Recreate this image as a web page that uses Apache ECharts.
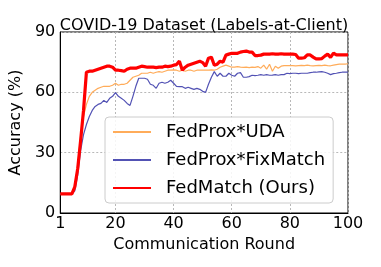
<!DOCTYPE html>
<html><head><meta charset="utf-8">
<script src="https://cdn.jsdelivr.net/npm/echarts@6/dist/echarts.min.js"></script>
<style>html,body{margin:0;padding:0;background:#fff}#c{width:381px;height:267px}</style>
</head><body><div id="c"></div>
<script>
const rounds = Array.from({length: 100}, (_, i) => i + 1);
const xTickLabels = [1, 20, 40, 60, 80, 100];
const yTickLabels = [0, 30, 60, 90];
const seriesNames = ['FedProx*UDA', 'FedProx*FixMatch', 'FedMatch (Ours)'];

const fedproxUDA = [
  9.5, 9.5, 9.5, 9.5, 9.5, 13, 24, 38, 48, 54,
  58, 60, 61, 62, 62.5, 63, 63, 63, 63.5, 64.5,
  63.5, 64, 64, 64.5, 66, 67.5, 68, 68.5, 69.5, 69.5,
  69.5, 70, 69.5, 70, 70.3, 70, 70.5, 71, 71, 71.2,
  71, 70.5, 71, 70.5, 71, 71, 70.5, 71, 71, 71,
  71, 71, 71.2, 71, 71.5, 72.5, 73, 73.5, 73, 72.5,
  72.5, 72.8, 72.5, 72.4, 72.5, 72.3, 72.5, 72.4, 72.8, 72,
  73.5, 71.5, 74, 70.5, 73, 72, 73, 73.3, 73.3, 73.3,
  73.3, 73.2, 73.3, 73.4, 73.3, 73.5, 73.3, 73.2, 73.3, 73.4,
  73.3, 73.5, 73.3, 73.2, 73.5, 73.8, 74, 74, 74, 74.2
];
const fedproxFixMatch = [
  9.5, 9.5, 9.5, 9.5, 9.5, 11, 19, 31, 39, 44,
  48, 51, 53, 54, 54.5, 56, 55, 57, 58, 59.8,
  58, 57, 56, 54.5, 53.5, 58, 63, 67, 67, 67,
  66.5, 64, 63.5, 62, 64.5, 65, 64.5, 65, 66, 64.5,
  63, 62.8, 62.8, 62, 62.5, 62, 61.5, 62, 61.5, 60.5,
  60, 64, 67.5, 70.3, 68, 69.5, 68, 68, 69.5, 68.5,
  68, 69.5, 69.8, 67.5, 67.5, 67.8, 68.5, 68.3, 68.5, 68.8,
  68.5, 68.8, 68.5, 68.6, 68.8, 68.5, 68.8, 68.8, 69.5, 69.3,
  69.5, 69.5, 69.3, 69.5, 69.5, 69.5, 69.8, 70, 70, 70.2,
  70.3, 70, 69.5, 68.8, 69.3, 69.5, 69.8, 70, 70, 70
];
const fedMatch = [
  9.5, 9.5, 9.5, 9.5, 9.5, 13, 22, 36, 51, 70,
  70.5, 70.5, 71, 71.5, 72, 72.5, 73, 73, 72.5, 71,
  71, 70.8, 70.5, 71.5, 72, 72, 72, 72.5, 73, 72.8,
  72.5, 72.5, 72.5, 72.3, 72.5, 72.5, 73, 72.8, 73, 73.5,
  73.8, 75.5, 71, 72.5, 73.5, 74, 74.5, 75, 75.5, 74.8,
  73, 77, 77.5, 73.5, 74, 75.5, 75, 78.5, 79, 79.4,
  79.4, 79.4, 80, 80.3, 80.5, 80, 80, 78.3, 78.3, 78.5,
  79, 79, 79, 79.2, 79, 79, 79.2, 79, 79, 79,
  79, 78.8, 77, 77, 77.2, 78.6, 78.6, 77.5, 76.6, 76.6,
  76.8, 78, 79, 77.4, 79.5, 78.6, 78.6, 78.6, 78.6, 78.6
];

const FONT = 'DejaVu Sans';
const isTick = (idx, val) => xTickLabels.includes(Number(val));

const chart = echarts.init(document.getElementById('c'), null, {renderer: 'canvas'});
chart.setOption({
  animation: false,
  backgroundColor: '#fff',
  textStyle: {fontFamily: FONT, color: '#000'},
  title: {
    text: 'COVID-19 Dataset (Labels-at-Client)',
    left: 204, top: 18, textAlign: 'center', padding: 0,
    textStyle: {fontFamily: FONT, fontSize: 16, fontWeight: 'normal', color: '#000'}
  },
  grid: {left: 58, right: 33, top: 32, bottom: 54, show: true, borderColor: '#000', borderWidth: 1, backgroundColor: 'transparent'},
  legend: {
    orient: 'vertical', left: 105, top: 117,
    data: seriesNames.map(n => ({name: n, itemStyle: {opacity: 0}})),
    itemWidth: 38, itemHeight: 20, itemGap: 10,
    padding: [6, 8, 6, 7],
    backgroundColor: 'rgba(255,255,255,0.85)',
    borderColor: '#cccccc', borderWidth: 1, borderRadius: 4,
    textStyle: {fontFamily: FONT, fontSize: 18, color: '#000', padding: [0, 0, 0, 10]}
  },
  xAxis: {
    type: 'category', data: rounds, boundaryGap: false,
    name: 'Communication Round', nameLocation: 'middle', nameGap: 19,
    nameTextStyle: {fontFamily: FONT, fontSize: 16, color: '#000'},
    axisLine: {show: true, lineStyle: {color: '#000', width: 1}},
    axisTick: {show: false},
    axisLabel: {interval: isTick, fontFamily: FONT, fontSize: 16, color: '#000', margin: 3},
    splitLine: {show: true, interval: isTick, lineStyle: {color: '#b8b8b8', type: [2, 2], width: 1}}
  },
  yAxis: {
    type: 'value', min: 0, max: 90, interval: 30,
    name: 'Accuracy (%)', nameLocation: 'middle', nameGap: 25,
    nameTextStyle: {fontFamily: FONT, fontSize: 16, color: '#000'},
    axisLine: {show: true, lineStyle: {color: '#000', width: 1}},
    axisTick: {show: false},
    axisLabel: {fontFamily: FONT, fontSize: 16, color: '#000', margin: 5,
      formatter: v => yTickLabels.includes(v) ? String(v) : ''},
    splitLine: {show: true, lineStyle: {color: '#b8b8b8', type: [2, 2], width: 1}}
  },
  series: [
    {name: seriesNames[0], type: 'line', data: fedproxUDA, symbol: 'none', z: 2,
     itemStyle: {color: '#ffac5a'}, lineStyle: {color: '#ffac5a', width: 1.2}},
    {name: seriesNames[1], type: 'line', data: fedproxFixMatch, symbol: 'none', z: 3,
     itemStyle: {color: '#5252b4'}, lineStyle: {color: '#5252b4', width: 1.2}},
    {name: seriesNames[2], type: 'line', data: fedMatch, symbol: 'none', z: 4,
     itemStyle: {color: '#ff0000'}, lineStyle: {color: '#ff0000', width: 3.2}}
  ]
});
</script></body></html>
